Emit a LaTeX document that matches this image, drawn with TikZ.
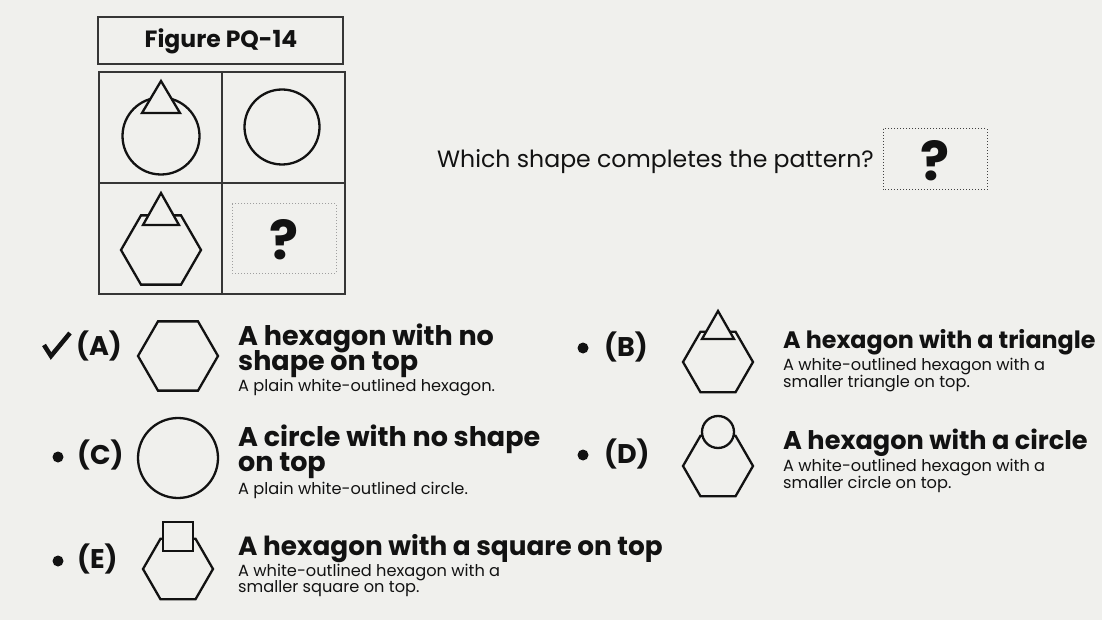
\documentclass[tikz,border=0pt]{standalone}
\usepackage{fontspec}
\setmainfont{Poppins}
\definecolor{bg}{RGB}{240,240,237}
\definecolor{ink}{RGB}{18,18,18}
\tikzset{
  shp/.style={draw=ink, line width=2.3pt, line join=miter},
  ttl/.style={anchor=base west, inner sep=0pt, text=ink, font=\bfseries\fontsize{27}{30}\selectfont},
  sub/.style={anchor=base west, inner sep=0pt, text=ink, font=\fontsize{16.2}{18}\selectfont},
  lbl/.style={anchor=base west, inner sep=0pt, text=ink, font=\bfseries\fontsize{27}{30}\selectfont},
  frame/.style={draw=ink!85, line width=1.5pt},
  dotbox/.style={draw=gray!75, dotted, line width=1pt},
  qmark/.style={text=ink, font=\bfseries\fontsize{54}{54}\selectfont},
  bul/.style={fill=ink, draw=none},
}
\newcommand\hexat[3]{\draw[shp,shift={(#1,#2)}] (0:#3)--(60:#3)--(120:#3)--(180:#3)--(240:#3)--(300:#3)--cycle;}
\begin{document}
\begin{tikzpicture}[x=1pt,y=-1pt]
\useasboundingbox (0,0) rectangle (1102,620);
\fill[bg] (0,0) rectangle (1102,620);

% figure title
\draw[frame] (98,17) rectangle (343,64);
\node[text=ink, font=\bfseries\fontsize{23.5}{26}\selectfont] (figtitle) at (221,41) {Figure PQ-14};

% grid
\draw[frame] (99,72) rectangle (345,294);
\draw[frame] (222,72) -- (222,294);
\draw[frame] (99,183) -- (345,183);

% cell 1
\draw[shp] (161,136) circle (38.5);
\filldraw[shp, fill=bg] (161,81) -- (142,113) -- (180,113) -- cycle;
% cell 2
\draw[shp] (282,127) circle (37.5);
% cell 3
\hexat{161}{250}{40}
\filldraw[shp, fill=bg] (161,193) -- (143,225) -- (179,225) -- cycle;
% cell 4
\draw[dotbox] (232,204) rectangle (336,273);
\node[qmark] (q4) at (284,240) {?};

% question
\node[anchor=base west, inner sep=0pt, text=ink, font=\fontsize{23.6}{26}\selectfont] (question) at (437,168) {Which shape completes the pattern?};
\draw[dotted, draw=ink!80, line width=1pt] (883,129) rectangle (987,190);
\node[qmark] (qq) at (935,161) {?};

% option A
\draw[ink, line width=4.5pt, line join=miter] (44,345) -- (51,356) -- (70,333);
\node[lbl] (la) at (76,355) {(A)};
\hexat{178}{356}{40}
\node[ttl] (ta1) at (238,345) {A hexagon with no};
\node[ttl] (ta2) at (238,370) {shape on top};
\node[sub] (sa) at (238,391) {A plain white-outlined hexagon.};

% option B
\fill[bul] (583,348) circle (5.5);
\node[lbl] (lb) at (604,356) {(B)};
\hexat{718}{362}{35}
\filldraw[shp, fill=bg] (718,311) -- (702,339) -- (734,339) -- cycle;
\node[ttl, font=\bfseries\fontsize{23.8}{28}\selectfont] (tb1) at (783,348) {A hexagon with a triangle};
\node[sub] (sb1) at (783,370) {A white-outlined hexagon with a};
\node[sub] (sb2) at (783,387) {smaller triangle on top.};

% option C
\fill[bul] (58,457) circle (5.5);
\node[lbl] (lc) at (77,464) {(C)};
\draw[shp] (178,458) circle (40);
\node[ttl] (tc1) at (238,446) {A circle with no shape};
\node[ttl] (tc2) at (238,471) {on top};
\node[sub] (sc) at (238,494) {A plain white-outlined circle.};

% option D
\fill[bul] (583,455) circle (5.5);
\node[lbl] (ld) at (604,463) {(D)};
\hexat{718}{466}{35}
\filldraw[shp, fill=bg] (718,432) circle (16);
\node[ttl, font=\bfseries\fontsize{25.6}{28}\selectfont] (td1) at (783,449) {A hexagon with a circle};
\node[sub] (sd1) at (783,471) {A white-outlined hexagon with a};
\node[sub] (sd2) at (783,488) {smaller circle on top.};

% option E
\fill[bul] (58,561) circle (5.5);
\node[lbl] (le) at (77,568) {(E)};
\hexat{178}{569}{35}
\filldraw[shp, fill=bg] (163,522) rectangle (193,551);
\node[ttl, font=\bfseries\fontsize{26.3}{28}\selectfont] (te1) at (238,555) {A hexagon with a square on top};
\node[sub] (se1) at (238,576) {A white-outlined hexagon with a};
\node[sub] (se2) at (238,592) {smaller square on top.};
\end{tikzpicture}
\end{document}
